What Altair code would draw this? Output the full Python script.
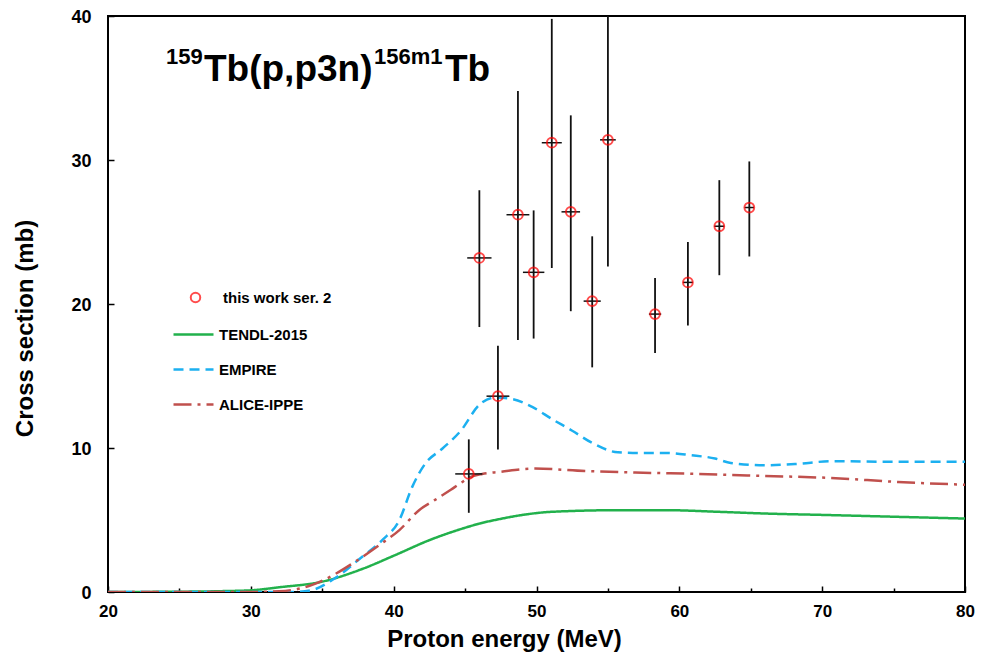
import altair as alt
import pandas as pd

FONT = "Liberation Sans"

# ---- experimental data: this work ser. 2 ----
energy = [45.26, 46.0, 47.3, 48.7, 49.8, 51.07, 52.4, 53.9, 55.0, 58.3, 60.6, 62.8, 64.9]
energy_err = [0.95, 0.85, 0.8, 0.8, 0.75, 0.7, 0.65, 0.6, 0.55, 0.43, 0.35, 0.35, 0.33]
xsec = [8.2, 23.2, 13.6, 26.2, 22.2, 31.2, 26.4, 20.2, 31.4, 19.3, 21.5, 25.4, 26.7]
xsec_lo = [5.5, 18.4, 9.9, 17.5, 17.6, 22.5, 19.5, 15.6, 22.6, 16.6, 18.5, 22.0, 23.3]
xsec_hi = [10.6, 27.9, 17.1, 34.8, 26.5, 39.8, 33.1, 24.7, 40.0, 21.8, 24.3, 28.6, 29.9]

# ---- model curves ----
tendl_e = [20, 25, 28, 30, 32, 35, 37.8, 40.1, 42.5, 44.8, 46.0, 47.6, 49.0, 51.1, 55.7, 59.2, 62.7, 66.0, 70.6, 75.3, 80]
tendl_y = [0, 0.02, 0.06, 0.12, 0.33, 0.72, 1.6, 2.56, 3.6, 4.4, 4.75, 5.1, 5.35, 5.57, 5.68, 5.68, 5.57, 5.45, 5.34, 5.22, 5.1]

empire_e = [20, 30, 33, 34.3, 35.7, 37.8, 39.2, 40.4, 41.3, 42.2, 43.4, 44.7, 46.0, 47.1, 48.3, 49.7, 51.1, 52.5, 53.9, 55.7,
            57.5, 59.2, 60.8, 62.5, 63.6, 66.0, 68.3, 70.6, 75.3, 80]
empire_y = [0, 0, 0, 0.14, 0.83, 2.45, 3.6, 5.0, 7.3, 8.9, 9.95, 11.2, 13.0, 13.5, 13.4, 12.85, 12.0, 11.2, 10.35, 9.7,
            9.65, 9.65, 9.5, 9.27, 8.96, 8.8, 8.9, 9.08, 9.04, 9.04]

alice_e = [20, 30, 32, 34.3, 36.0, 37.3, 39.0, 40.4, 41.8, 42.9, 44.0, 44.6, 45.3, 46.2, 47.4, 49.9, 53.4, 56.9, 62.0, 66.0, 70.6, 75.3, 80]
alice_y = [0, 0, 0.05, 0.49, 1.3, 2.1, 3.26, 4.3, 5.7, 6.4, 7.1, 7.5, 7.95, 8.2, 8.34, 8.57, 8.4, 8.3, 8.18, 8.06, 7.92, 7.64, 7.45]

models = ["TENDL-2015", "EMPIRE", "ALICE-IPPE"]
model_colors = ["#22b14c", "#1cb0f0", "#c0504d"]
model_dashes = [[1, 0], [10, 6], [18, 6, 3, 6]]
point_label = "this work ser. 2"

x_major = [20, 30, 40, 50, 60, 70, 80]
x_minor = [25, 35, 45, 55, 65, 75]
y_ticks = [0, 10, 20, 30, 40]

title_pieces = ["159", "Tb(p,p3n)", "156m1", "Tb"]

# ---- tables ----
exp = pd.DataFrame({
    "E": energy, "XS": xsec, "lo": xsec_lo, "hi": xsec_hi,
    "elo": [e - d for e, d in zip(energy, energy_err)],
    "ehi": [e + d for e, d in zip(energy, energy_err)],
    "src": [point_label] * len(energy),
})
curves = pd.concat([
    pd.DataFrame({"E": tendl_e, "XS": tendl_y, "model": models[0], "ord": 0}),
    pd.DataFrame({"E": empire_e, "XS": empire_y, "model": models[1], "ord": 1}),
    pd.DataFrame({"E": alice_e, "XS": alice_y, "model": models[2], "ord": 2}),
])

xscale = alt.Scale(domain=[20, 80], nice=False, zero=False)
yscale = alt.Scale(domain=[0, 40], nice=False)

major_axis = alt.Axis(values=x_major, orient="bottom", tickSize=6, offset=-6, domain=False, grid=False,
                      tickColor="black", tickWidth=1.5, labelFont=FONT, labelFontSize=17, labelFontWeight="bold",
                      labelColor="black", labelPadding=11, labelFlush=False, title="Proton energy  (MeV)",
                      titleFont=FONT, titleFontSize=24, titleFontWeight="bold", titleColor="black",
                      titlePadding=8, titleX=396, titleAlign="center")
minor_axis = alt.Axis(values=x_minor, orient="bottom", tickSize=4, offset=-4, domain=False, grid=False,
                      tickColor="black", tickWidth=1.5, labels=False, title=None)
y_axis = alt.Axis(values=y_ticks, orient="left", tickSize=6, offset=-6, domain=False, grid=False,
                  tickColor="black", tickWidth=1.5, labelFont=FONT, labelFontSize=18, labelFontWeight="bold",
                  labelColor="black", labelPadding=17, labelFlush=False, labelOffset=1,
                  title="Cross section (mb)", titleFont=FONT, titleFontSize=24, titleFontWeight="bold",
                  titleColor="black", titlePadding=33, titleY=312, titleAlign="center")

line_legend = alt.Legend(title=None, orient="none", legendX=64, legendY=297, symbolType="stroke",
                         symbolSize=1600, symbolStrokeWidth=2.5, labelFont=FONT, labelFontSize=15,
                         labelFontWeight="bold", labelColor="black", labelOffset=4, rowPadding=5, padding=0)
point_legend = alt.Legend(title=None, orient="none", legendX=80, legendY=274, symbolType="circle",
                          symbolSize=90, symbolStrokeWidth=2, symbolStrokeColor="#ff0000",
                          symbolFillColor="transparent", labelFont=FONT, labelFontSize=15,
                          labelFontWeight="bold", labelColor="black", labelOffset=20, padding=0)

lines = alt.Chart(curves).mark_line(strokeWidth=2.5, interpolate="monotone", clip=True).encode(
    x=alt.X("E:Q", scale=xscale, axis=major_axis),
    y=alt.Y("XS:Q", scale=yscale, axis=y_axis),
    color=alt.Color("model:N", scale=alt.Scale(domain=models, range=model_colors), legend=line_legend),
    strokeDash=alt.StrokeDash("model:N", scale=alt.Scale(domain=models, range=model_dashes), legend=line_legend),
    order="ord:Q",
)

vbars = alt.Chart(exp).mark_rule(color="#111111", strokeWidth=1.8).encode(
    x=alt.X("E:Q", scale=xscale, axis=None),
    y=alt.Y("lo:Q", scale=yscale),
    y2="hi:Q",
)
hbars = alt.Chart(exp).mark_rule(color="#111111", strokeWidth=1.5).encode(
    x=alt.X("elo:Q", scale=xscale, axis=minor_axis),
    x2="ehi:Q",
    y=alt.Y("XS:Q", scale=yscale),
)
points = alt.Chart(exp).mark_point(shape="circle", filled=False, color="#ff0000", size=95, strokeWidth=2).encode(
    x=alt.X("E:Q", scale=xscale, axis=None),
    y=alt.Y("XS:Q", scale=yscale),
    shape=alt.Shape("src:N", scale=alt.Scale(domain=[point_label], range=["circle"]), legend=point_legend),
)

def title_text(piece, size, px, py):
    return alt.Chart(pd.DataFrame({"t": [piece]})).mark_text(
        font=FONT, fontSize=size, fontWeight="bold", color="black", align="left", baseline="alphabetic"
    ).encode(text="t:N", x=alt.value(px), y=alt.value(py))

titles = [
    title_text(title_pieces[0], 22, 58, 48),
    title_text(title_pieces[1], 37, 96, 65),
    title_text(title_pieces[2], 22, 266, 48),
    title_text(title_pieces[3], 37, 337, 65),
]

chart = alt.layer(lines, vbars, hbars, points, *titles).resolve_axis(x="independent").resolve_scale(
    x="shared", y="shared"
).properties(
    width=857, height=576,
    padding={"left": 100, "top": 8, "right": 10, "bottom": 64},
    autosize=alt.AutoSizeParams(type="none"),
).configure_view(stroke="black", strokeWidth=2)

chart.save("out.html", embed_options={"renderer": "svg", "actions": False})
